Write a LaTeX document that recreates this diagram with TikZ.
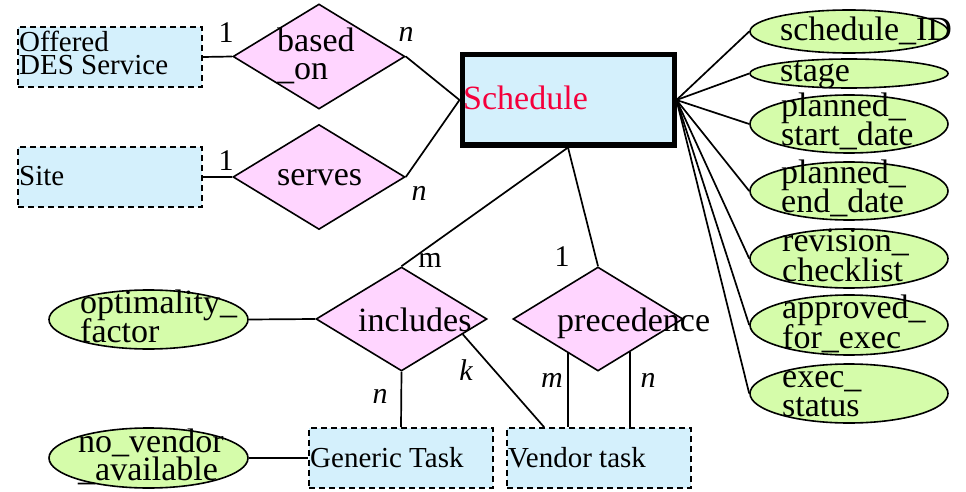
\documentclass[tikz,border=0pt]{standalone}
\usepackage{fontspec}
\setmainfont{Liberation Serif}
\usetikzlibrary{shapes.geometric,calc}

\definecolor{entfill}{RGB}{212,240,252}
\definecolor{relfill}{RGB}{255,213,255}
\definecolor{attfill}{RGB}{213,252,170}
\definecolor{schedred}{RGB}{245,0,60}

% two stacked lines with a fixed baseline distance (baseline = first line)
\newcommand\twoline[3]{\vtop{\baselineskip=#3pt\lineskiplimit=-100pt\lineskip=0pt\hbox{#1}\hbox{#2}}}

\begin{document}
\begin{tikzpicture}[x=1pt,y=-1pt,
  ent/.style={draw, line width=1.7pt, dash pattern=on 6pt off 4pt, fill=entfill,
              minimum width=184pt, minimum height=60pt, inner sep=0},
  rel/.style={diamond, draw, line width=1.6pt, fill=relfill, inner sep=0},
  att/.style={ellipse, draw, line width=1.6pt, fill=attfill, inner sep=0, minimum width=198pt},
  txt/.style={anchor=base west, inner sep=0, font=\fontsize{34}{34}\selectfont},
  etxt/.style={txt, font=\fontsize{29}{29}\selectfont},
  card/.style={anchor=base, inner sep=0, font=\fontsize{30}{30}\selectfont},
  cardi/.style={card, font=\fontsize{30}{30}\selectfont\itshape},
  conn/.style={draw, line width=1.7pt}]

\useasboundingbox (0,0) rectangle (966,492);
\fill[white] (0,0) rectangle (966,492);

% entities
\node[ent] (off)  at (110,57)  {};
\node[ent] (site) at (110,177) {};
\node[ent] (gen)  at (401,458) {};
\node[ent] (ven)  at (599,458) {};
\node[draw, line width=5pt, fill=entfill, minimum width=212pt, minimum height=90pt, inner sep=0] (sch) at (568,100) {};

% relationships
\node[rel, minimum width=172pt, minimum height=105pt] (based)  at (319,56.5) {};
\node[rel, minimum width=172pt, minimum height=105pt] (serves) at (319,177) {};
\node[rel, minimum width=171pt, minimum height=104pt] (inc)    at (401.5,319) {};
\node[rel, minimum width=170pt, minimum height=104pt] (prec)   at (598,319) {};

% attributes
\node[att, minimum height=43pt] (aid)   at (849,31.5)  {};
\node[att, minimum height=29pt] (astg)  at (849,73.5)  {};
\node[att, minimum height=58pt] (apsd)  at (849,124)   {};
\node[att, minimum height=58pt] (aped)  at (849,191)   {};
\node[att, minimum height=59pt] (arev)  at (849,258.5) {};
\node[att, minimum height=60pt] (aapp)  at (849,325)   {};
\node[att, minimum height=59pt] (aexe)  at (849,393.5) {};
\node[att, minimum width=199pt, minimum height=59pt] (aopt) at (148.5,319.5) {};
\node[att, minimum width=199pt, minimum height=60pt] (anov) at (148.5,458) {};

% connectors
\path[conn] (off.east) -- (based.west);
\path[conn] (site.east) -- (serves.west);
\path[conn] (based.east) -- (sch.west);
\path[conn] (serves.east) -- (sch.west);
\foreach \a in {aid,astg,apsd,aped,arev,aapp,aexe}
  \path[conn] (sch.east) -- (\a.west);
\path[conn] (sch.south) -- (inc.north);
\path[conn] (sch.south) -- (prec.north);
\path[conn] (aopt.east) -- (inc.west);
\path[conn] (anov.east) -- (gen.west);
\path[conn] (inc.south) -- (gen.north);
\coordinate (incvk) at ($(inc.east)!0.29!(inc.south)$);
\coordinate (venk)  at ($(ven.north west)+(38,0)$);
\path[conn] (incvk) -- (venk);
\coordinate (precm) at ($(prec.west)!0.647!(prec.south)$);
\coordinate (precn) at ($(prec.south)!0.376!(prec.east)$);
\path[conn] (precm) -- (precm |- ven.north);
\path[conn] (precn) -- (precn |- ven.north);

% cardinalities
\node[card]  (c1)  at (226,43)  {1};
\node[card]  (c2)  at (226,170) {1};
\node[cardi] (c3)  at (406,42)  {n};
\node[cardi] (c4)  at (419,200) {n};
\node[card]  (c5)  at (430,267) {m};
\node[card]  (c6)  at (562,266) {1};
\node[cardi] (c7)  at (380,403) {n};
\node[cardi] (c8)  at (466,380) {k};
\node[cardi] (c9)  at (552,387) {m};
\node[cardi] (c10) at (648,387) {n};

% texts
\node[etxt] (t-off)  at (19,52)  {\twoline{Offered}{DES Service}{23}};
\node[etxt] (t-site) at (19,185) {Site};
\node[txt] (t-based)  at (277,52)  {\twoline{based}{\_on}{28}};
\node[txt] (t-serves) at (277,185) {serves};
\node[txt, text=schedred] (t-sch) at (463,110) {Schedule};
\node[txt] (t-aid)  at (780,41)  {schedule\_ID};
\node[txt] (t-astg) at (780,82)  {stage};
\node[txt] (t-apsd) at (781,117) {\twoline{planned\_}{start\_date}{29}};
\node[txt] (t-aped) at (781,183) {\twoline{planned\_}{end\_date}{29}};
\node[txt] (t-arev) at (782,251) {\twoline{revision\_}{checklist}{30}};
\node[txt] (t-aapp) at (782,318) {\twoline{approved\_}{for\_exec}{30}};
\node[txt] (t-aexe) at (782,387) {\twoline{exec\_}{status}{29}};
\node[txt] (t-aopt) at (80,313)  {\twoline{optimality\_}{factor}{29}};
\node[txt] (t-anov) at (78,452)  {\twoline{no\_vendor}{\_available}{28}};
\node[txt] (t-inc)  at (358,331) {includes};
\node[txt] (t-prec) at (557,331) {precedence};
\node[etxt] (t-gen) at (310,467) {Generic Task};
\node[etxt] (t-ven) at (508,467) {Vendor task};
\end{tikzpicture}
\end{document}
